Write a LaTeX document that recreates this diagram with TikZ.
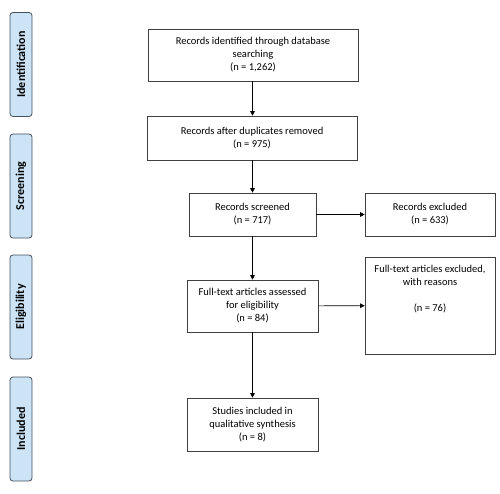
\documentclass[tikz,border=0pt]{standalone}
\usepackage{fontspec}
\setmainfont{Carlito}
\usetikzlibrary{arrows.meta}

\definecolor{phasefill}{RGB}{204,228,246}
\definecolor{phasedraw}{RGB}{70,80,90}

\begin{document}
\begin{tikzpicture}[x=1pt,y=-1pt]
\useasboundingbox (0,0) rectangle (500,494);
\begin{scope}[every node/.style={rounded corners=3pt,thick,draw=phasedraw,fill=phasefill,
              minimum width=104pt,minimum height=22pt,rotate=90,font=\fontsize{12}{14}\selectfont\bfseries}]
    \node (P1) at (21,64.5) {Identification};
    \node (P2) at (21,186) {Screening};
    \node (P3) at (21,307) {Eligibility};
    \node (P4) at (21,429) {Included};
\end{scope}
\begin{scope}[every node/.style={draw=black!75,semithick,align=center,inner sep=0pt,
              font=\fontsize{10.5}{13}\selectfont}]
    \node[minimum width=210pt,minimum height=52pt] (R1) at (253,55) {Records identified through database\\searching\\(n = 1,262)};
    \node[minimum width=210pt,minimum height=44pt] (R2) at (252,138) {Records after duplicates removed\\(n = 975)};
    \node[minimum width=127pt,minimum height=43pt] (R3) at (252.5,214.5) {Records screened\\(n = 717)};
    \node[minimum width=130pt,minimum height=43pt] (X1) at (430,214.5) {Records excluded\\(n = 633)};
    \node[minimum width=131pt,minimum height=52pt] (R4) at (252.5,306) {Full-text articles assessed\\for eligibility\\(n = 84)};
    \node[minimum width=130pt,minimum height=97pt,text depth=0pt] (X2) at (430,305.5) {};
    \node[minimum width=131pt,minimum height=53pt] (R5) at (252.5,424.5) {Studies included in\\qualitative synthesis\\(n = 8)};
\end{scope}
\node[align=center,font=\fontsize{10.5}{13}\selectfont,anchor=north] (T) at (430,262) {Full-text articles excluded,\\with reasons\\[13pt](n = 76)};
\begin{scope}[>={Triangle[length=4.5pt,width=4.5pt]},semithick]
    \draw [->] (R1.south -| R3) -- (R2.north -| R3);
    \draw [->] (R2.south -| R3) -- (R3);
    \draw [->] (R3) -- (X1);
    \draw [->] (R3) -- (R4);
    \draw [->] (R4) -- (X2);
    \draw [->] (R4) -- (R5);
\end{scope}
\end{tikzpicture}
\end{document}
